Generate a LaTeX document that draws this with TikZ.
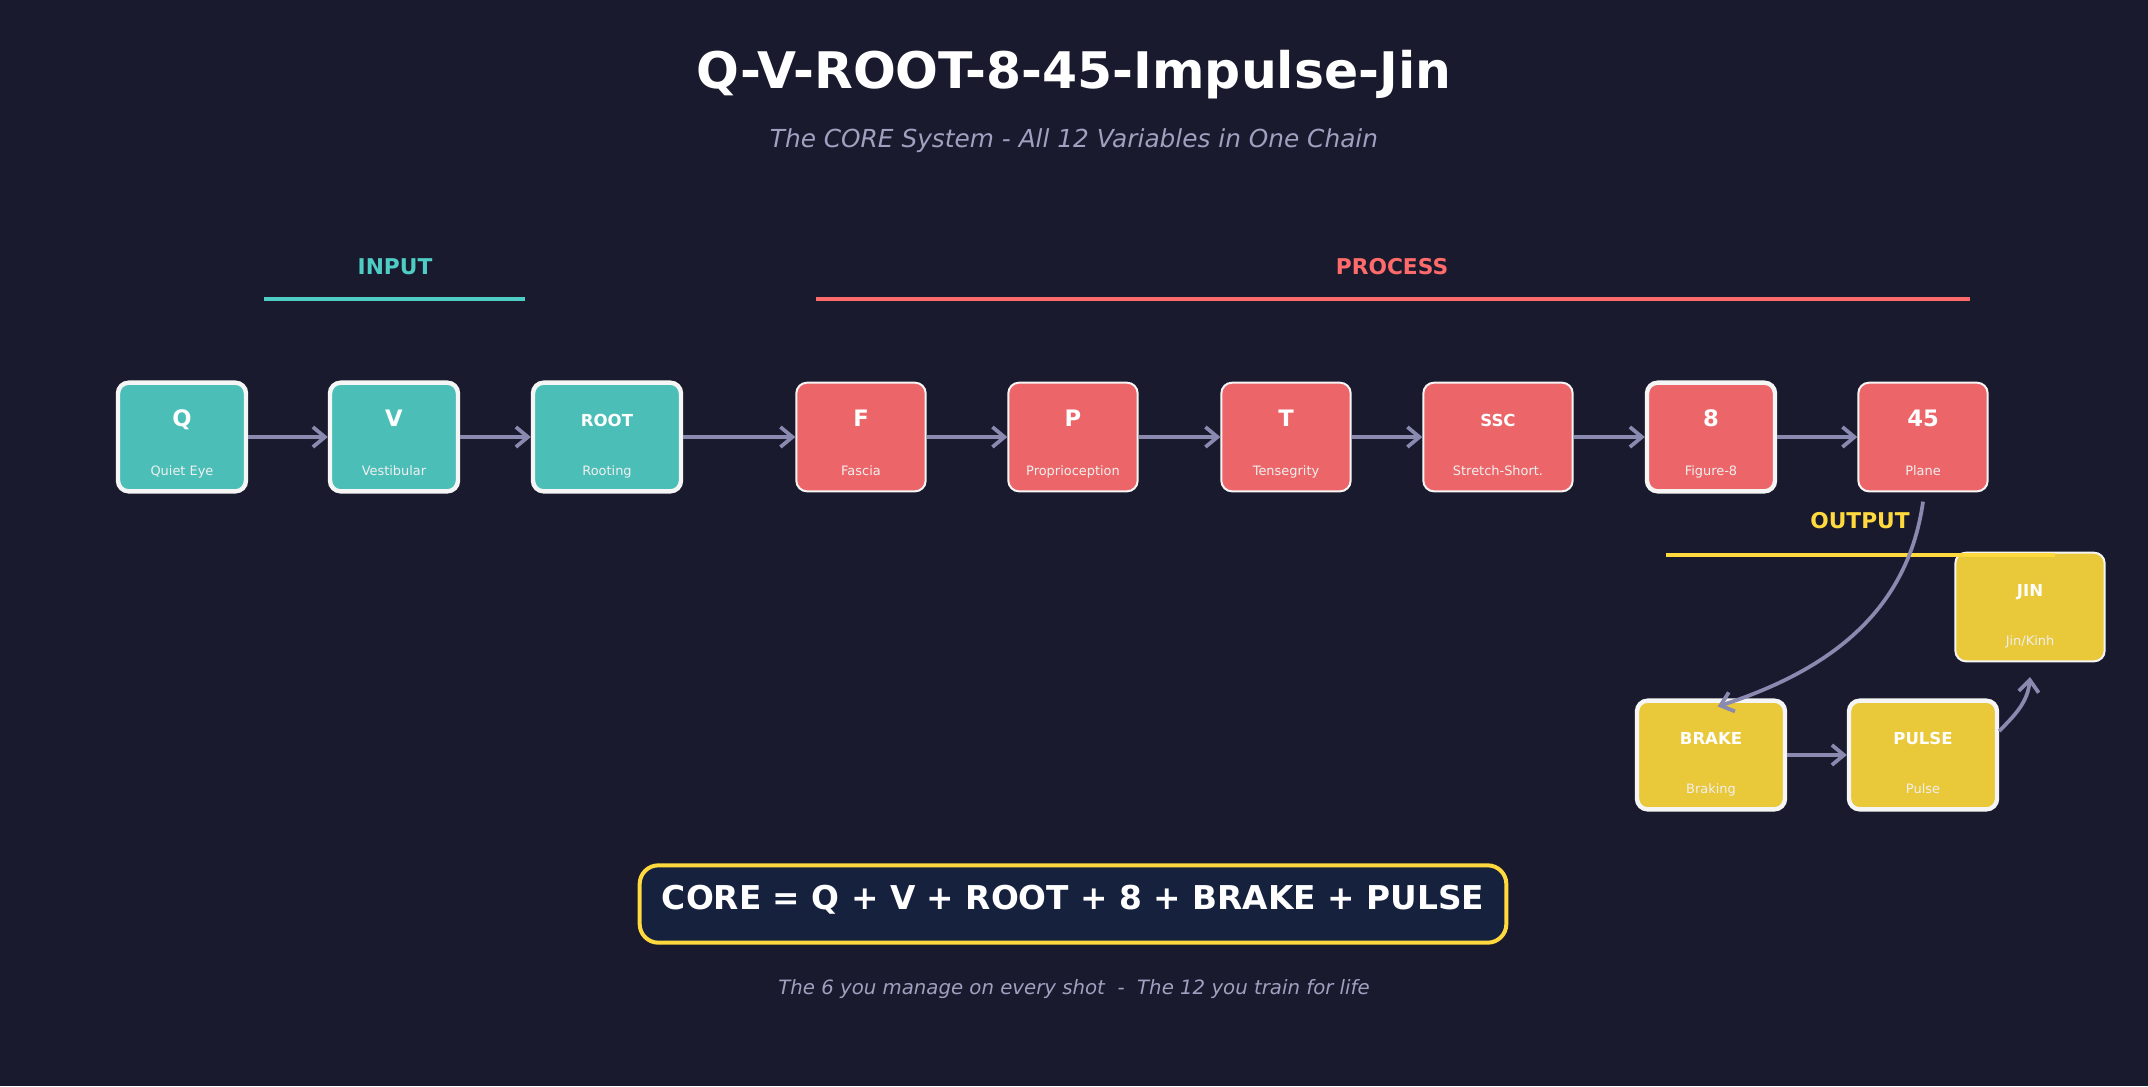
\documentclass[tikz,border=0pt]{standalone}
\usepackage{fontspec}
\setmainfont{DejaVu Sans}
\usetikzlibrary{arrows.meta,calc}
\definecolor{bgc}{HTML}{1A1A2E}
\definecolor{tealbox}{RGB}{75,191,183}
\definecolor{redbox}{RGB}{236,102,105}
\definecolor{yelbox}{RGB}{233,200,58}
\definecolor{tealt}{HTML}{4ECDC4}
\definecolor{redt}{HTML}{FF6B6B}
\definecolor{yelt}{HTML}{FFD93D}
\definecolor{boxline}{RGB}{245,245,245}
\definecolor{arrowc}{RGB}{138,138,176}
\definecolor{greyt}{RGB}{160,160,192}
\definecolor{subt}{RGB}{240,240,240}
\definecolor{corefill}{HTML}{16213E}
\newcommand{\mkbox}[7]{%
  \node[#4, minimum width=#3] (#1) at (#2) {};
  \node[#5] (#1l) at ($(#1.center)+(0,-15)$) {#6};
  \node[sub] (#1s) at ($(#1.center)+(0,34)$) {#7};
}
\begin{document}
\begin{tikzpicture}[x=0.75pt,y=-0.75pt,
  box/.style={rectangle, rounded corners=8pt, minimum height=81.5pt, inner sep=0pt, draw=boxline},
  thickb/.style={line width=3.3pt},
  thinb/.style={line width=1.5pt},
  tbox/.style={box, fill=tealbox},
  rbox/.style={box, fill=redbox},
  ybox/.style={box, fill=yelbox},
  labL/.style={text=white, inner sep=0pt, text height=0.73em, text depth=0pt, font=\bfseries\fontsize{17}{20}\selectfont},
  labS/.style={text=white, inner sep=0pt, text height=0.73em, text depth=0pt, font=\bfseries\fontsize{12.4}{15}\selectfont},
  sub/.style={text=subt, inner sep=0pt, text height=0.73em, text depth=0pt, font=\fontsize{9.7}{12}\selectfont},
  sect/.style={inner sep=0pt, text height=0.73em, text depth=0pt, font=\bfseries\fontsize{16.3}{19}\selectfont},
  arr/.style={draw=arrowc, line width=2.8pt, -{Straight Barb[length=9pt,width=15pt,line width=2.8pt]}},
]
\fill[bgc] (0,0) rectangle (2148,1086);
\useasboundingbox (0,0) rectangle (2148,1086);

% titles
\node[text=white, inner sep=0pt, text height=0.73em, text depth=0pt, font=\bfseries\fontsize{37.8}{44}\selectfont] (title) at (1074,84) {Q-V-ROOT-8-45-Impulse-Jin};
\node[text=greyt, inner sep=0pt, text height=0.73em, text depth=0pt, font=\itshape\fontsize{18.6}{22}\selectfont] (subtitle) at (1074,143) {The CORE System - All 12 Variables in One Chain};

% section headers
\node[sect, text=tealt] (inlab) at (395,270) {INPUT};
\draw[tealt, line width=3pt] (264,299) -- (525,299);
\node[sect, text=redt] (prlab) at (1392,270) {PROCESS};
\draw[redt, line width=3pt] (816,299) -- (1970,299);
\node[sect, text=yelt] (outlab) at (1860,524) {OUTPUT};

% boxes
\mkbox{q}{182,437}{96pt}{tbox,thickb}{labL}{Q}{Quiet Eye}
\mkbox{v}{394,437}{96pt}{tbox,thickb}{labL}{V}{Vestibular}
\mkbox{root}{607,437}{111pt}{tbox,thickb}{labS}{ROOT}{Rooting}
\mkbox{f}{861,437}{97pt}{rbox,thinb}{labL}{F}{Fascia}
\mkbox{p}{1073,437}{97pt}{rbox,thinb}{labL}{P}{Proprioception}
\mkbox{t}{1286,437}{97pt}{rbox,thinb}{labL}{T}{Tensegrity}
\mkbox{ssc}{1498,437}{112pt}{rbox,thinb}{labS}{SSC}{Stretch-Short.}
\mkbox{n8}{1711,437}{96pt}{rbox,thickb}{labL}{8}{Figure-8}
\mkbox{n45}{1923,437}{97pt}{rbox,thinb}{labL}{45}{Plane}
\mkbox{jin}{2030,607}{112pt}{ybox,thinb}{labS}{JIN}{Jin/Kinh}
\mkbox{brake}{1711,755}{111pt}{ybox,thickb}{labS}{BRAKE}{Braking}
\mkbox{pulse}{1923,755}{111pt}{ybox,thickb}{labS}{PULSE}{Pulse}

\draw[yelt, line width=3pt] (1666,555) -- (2055,555);

% connectors
\draw[arr] (q) -- (v);
\draw[arr] (v) -- (root);
\draw[arr] (root) -- (f);
\draw[arr] (f) -- (p);
\draw[arr] (p) -- (t);
\draw[arr] (t) -- (ssc);
\draw[arr] (ssc) -- (n8);
\draw[arr] (n8) -- (n45);
\draw[arr] ([yshift=-7pt]n45.south) to[out=-98,in=18] ([xshift=5pt,yshift=-6pt]brake.north);
\draw[arr] (brake) -- (pulse);
\draw[arr] ([yshift=18pt]pulse.east) to[out=45,in=-95] ([yshift=-11pt]jin.south);

% formula
\node[draw=yelt, line width=3pt, fill=corefill, rounded corners=14pt, minimum width=650pt, minimum height=58pt, inner sep=0pt, text=white, text height=0.86em, text depth=0pt, font=\bfseries\fontsize{24.6}{29}\selectfont] (core) at (1073,904) {CORE = Q + V + ROOT + 8 + BRAKE + PULSE};
\node[text=greyt, inner sep=0pt, text height=0.73em, text depth=0pt, font=\itshape\fontsize{14.8}{18}\selectfont] (foot) at (1074,990) {The 6 you manage on every shot\ \ -\ \ The 12 you train for life};
\end{tikzpicture}
\end{document}
